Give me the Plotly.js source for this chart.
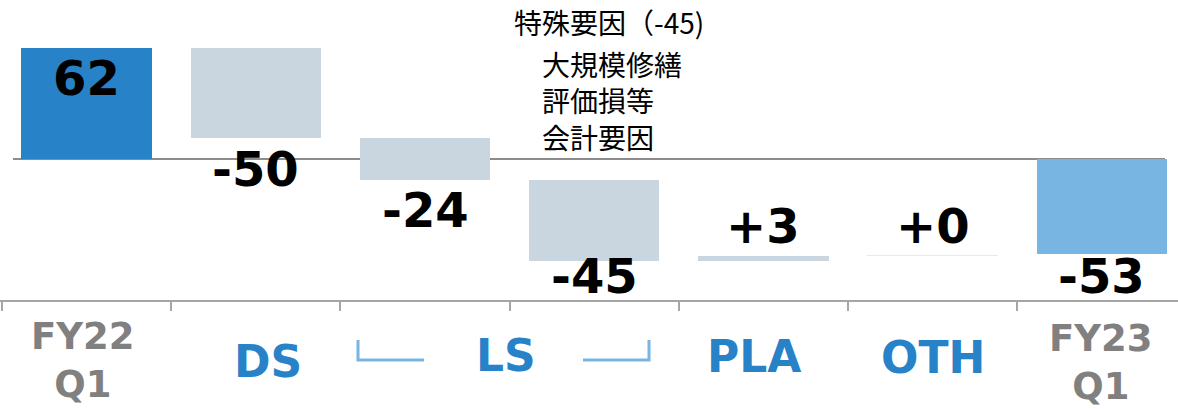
<!DOCTYPE html>
<html><head><meta charset="utf-8">
<script src="https://cdn.plot.ly/plotly-3.0.1.min.js"></script>
<style>html,body{margin:0;padding:0;background:#fff;overflow:hidden}#chart{width:1178px;height:409px;}</style>
</head><body><div id="chart"></div>
<script>
// ---- data ----
const categories = ["FY22 Q1", "DS", "LS", "特殊要因", "PLA", "OTH", "FY23 Q1"];
const measures   = ["absolute", "relative", "relative", "relative", "relative", "relative", "total"];
const values     = [62, -50, -24, -45, 3, 0.4, -53];
const valueLabels = ["62", "-50", "-24", "-45", "+3", "+0", "-53"];
const axisLabels = ["FY22<br>Q1", "DS", "LS", "PLA", "OTH", "FY23<br>Q1"];
const axisLabelCols = [[0], [1], [2, 3], [4], [5], [6]];
const noteTitle = "特殊要因（-45)";
const noteItems = ["大規模修繕", "評価損等", "会計要因"];

// ---- styles ----
const colStart = "#2882C8", colEnd = "#78B5E3", colDelta = "#C9D6E0", colDeltaZero = "#E4EAF0";
const labelShift = [-33, -34, -33, -18, 27, 26, -25];   // px from bar end
const axisLabelY = [-40, -61, -55, -56, -57, -42];       // px below plot bottom (center)
const axisLabelX = [-4, 12, -4, -9, 0, -1];               // px nudges
const axisLabelColor = ["#808080", "#2882C8", "#2882C8", "#2882C8", "#2882C8", "#808080"];
const axisLabelSize = [37, 44, 44, 44, 44, 37];

const colW = 169.2;                  // px per category
const xmin = -0.5 - 2 / colW;
const xmax = xmin + 1178 / colW;
const pxPerUnit = 1.79;
const ymax = 159 / pxPerUnit, ymin = -141 / pxPerUnit;

// build waterfall geometry from data
const xs = categories.map((_, i) => i);
const bases = [], heights = [], colors = [], ends = [];
let level = 0;
values.forEach((v, i) => {
  const m = measures[i];
  if (m === "absolute") { bases.push(0); heights.push(v); level = v; colors.push(colStart); }
  else if (m === "total") { bases.push(0); heights.push(v); colors.push(colEnd); }
  else { bases.push(level); heights.push(v); level += v; colors.push(Math.abs(v) < 1 ? colDeltaZero : colDelta); }
  ends.push(bases[i] + heights[i]);
});

const trace = {
  type: "bar", x: xs, y: heights, base: bases, width: 0.77,
  marker: { color: colors, line: { width: 0 } },
  hoverinfo: "skip", showlegend: false
};

const annotations = [];
valueLabels.forEach((t, i) => {
  annotations.push({
    x: xs[i], y: ends[i], xref: "x", yref: "y", text: t, showarrow: false,
    xanchor: "center", yanchor: "middle", yshift: labelShift[i] + 3,
    font: { family: "DejaVu Sans", size: 48, color: "#000", weight: "bold" }
  });
});
axisLabels.forEach((t, i) => {
  const cols = axisLabelCols[i];
  const xc = cols.reduce((a, b) => a + b, 0) / cols.length;
  annotations.push({
    x: xc, y: 0, xref: "x", yref: "paper", text: t, showarrow: false,
    xanchor: "center", yanchor: "middle", yshift: axisLabelY[i] + (t.includes("<br>") ? -20 : 0),
    xshift: axisLabelX[i],
    font: { family: "DejaVu Sans", size: axisLabelSize[i], color: axisLabelColor[i], weight: "bold" }
  });
});
const noteFont = { family: "Noto Sans CJK JP", size: 28, color: "#000" };
annotations.push({
  x: 3, y: (300 - 22) / 300, xref: "x", yref: "paper", text: noteTitle, showarrow: false,
  xanchor: "left", yanchor: "middle", xshift: -82, font: noteFont
});
annotations.push({
  x: 3, y: (300 - 100) / 300, xref: "x", yref: "paper", text: noteItems.join("<br>"), showarrow: false,
  xanchor: "left", yanchor: "middle", align: "left", xshift: -54, font: noteFont
});

const bracketColor = "#78B5E3";
const px2x = p => xmin + p / colW;
const py2paper = p => (300 - p) / 300;
const shapes = [
  { type: "line", xref: "x", yref: "y", x0: px2x(13), x1: px2x(1165), y0: 0, y1: 0,
    line: { color: "#8C8C8C", width: 2 }, layer: "below" },
  { type: "path", xref: "paper", yref: "paper",
    path: `M ${358/1178},${py2paper(340)} L ${358/1178},${py2paper(360)} L ${424/1178},${py2paper(360)}`,
    line: { color: bracketColor, width: 3 } },
  { type: "path", xref: "paper", yref: "paper",
    path: `M ${583/1178},${py2paper(360)} L ${649/1178},${py2paper(360)} L ${649/1178},${py2paper(340)}`,
    line: { color: bracketColor, width: 3 } }
];

const layout = {
  width: 1178, height: 409,
  margin: { l: 0, r: 0, t: 0, b: 109, pad: 0 },
  paper_bgcolor: "#fff", plot_bgcolor: "#fff",
  xaxis: { range: [xmin, xmax], showgrid: false, zeroline: false, showline: true,
    linecolor: "#A6A6A6", linewidth: 2, ticks: "outside", ticklen: 9, tickwidth: 2,
    tickcolor: "#A6A6A6", tickvals: [-0.5, 0.5, 1.5, 2.5, 3.5, 4.5, 5.5, 6.5],
    showticklabels: false, fixedrange: true },
  yaxis: { range: [ymin, ymax], visible: false, showgrid: false, zeroline: false, fixedrange: true },
  annotations, shapes, hovermode: false, bargap: 0
};
Plotly.newPlot("chart", [trace], layout, { staticPlot: true, displayModeBar: false });
</script></body></html>
